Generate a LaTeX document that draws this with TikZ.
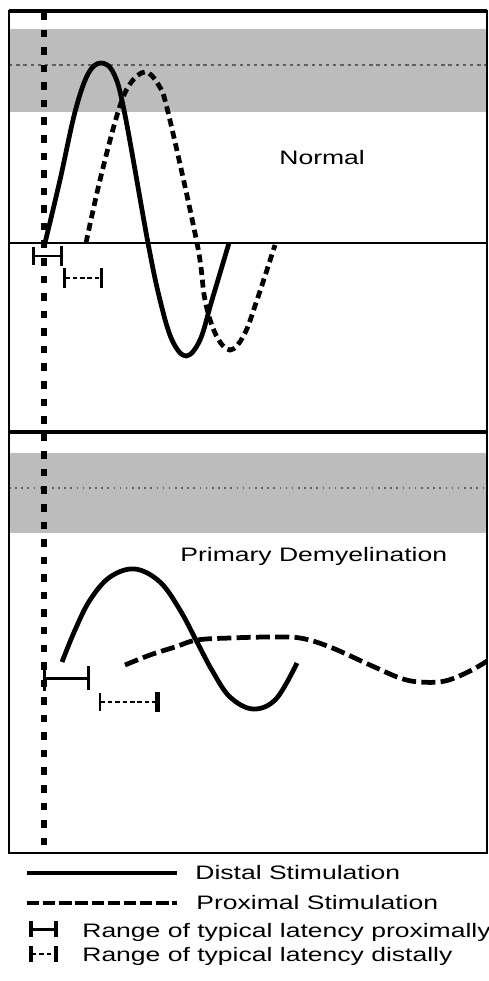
\documentclass[tikz,border=0pt]{standalone}
\usepackage{fontspec}
\newfontfamily\labelfont{Liberation Sans}[FakeStretch=1.36]
\usetikzlibrary{arrows.meta, positioning}
\definecolor{bandgray}{RGB}{188, 188, 188}
\definecolor{refgray}{RGB}{95, 95, 95}
\tikzset{
    frameline/.style={line width=1.1pt},
    divider/.style={line width=1.8pt},
    band/.style={fill=bandgray, draw=none},
    refdash/.style={draw=refgray, line width=0.6pt, dash pattern=on 1.9pt off 2.2pt},
    refdots/.style={draw=refgray, line width=0.8pt, dash pattern=on 0.9pt off 2.6pt},
    onsetline/.style={line width=3.2pt, dash pattern=on 4.3pt off 5.7pt},
    distalwave/.style={line width=2.7pt, line join=round},
    proximalwave/.style={line width=2.7pt, dash pattern=on 4.5pt off 2.7pt},
    slowwave/.style={line width=2.7pt, dash pattern=on 8pt off 3pt},
    legendsolid/.style={line width=2.3pt},
    legenddash/.style={line width=2.3pt, dash pattern=on 7pt off 2.2pt},
    latbar/.style={line width=1.7pt},
    latdash/.style={line width=1.1pt, dash pattern=on 2.6pt off 1.6pt},
    caption/.style={font=\labelfont\fontsize{11.1}{13.3}\selectfont, inner sep=0pt, anchor=base west},
}

\begin{document}
\begin{tikzpicture}[x=0.02cm, y=-0.02cm]
    \useasboundingbox (0,0) rectangle (489,981);

    % === Normal ===
    \fill[band] (9,29) rectangle (487,112);
    \draw[refdash] (9,65) -- (487,65);
    \node[caption] (normallbl) at (279,164) {Normal};
    \draw[line width=1pt] (9,243) -- (487,243);

    \draw[distalwave] plot[smooth, tension=0.6] coordinates {(45,243) (60,180) (75,112) (88,74) (101,63) (114,74) (125,115) (148,243) (160,300) (172,340) (186,356) (200,340) (212,300) (229,243)};
    \draw[proximalwave] plot[smooth, tension=0.6] coordinates {(86,243) (100,180) (118,112) (130,84) (145,72) (158,84) (168,112) (197,243) (205,300) (216,335) (230,350) (244,335) (257,300) (275,245)};

    % latency ranges
    \draw[latbar, {Bar[width=10pt]}-{Bar[width=11pt]}] (32,256) -- (63,256);
    \draw[latdash, {Bar[width=11pt, line width=1.7pt]}-{Bar[width=11pt, line width=1.7pt]}] (63,278) -- (103,278);

    % === Primary Demyelination ===
    \fill[band] (9,453) rectangle (487,533);
    \draw[refdots] (9,488) -- (487,488);
    \node[caption] (demyelbl) at (180,561) {Primary Demyelination};

    \begin{scope}
        \clip (9,432) rectangle (487,853);
        \draw[distalwave] plot[smooth, tension=0.6] coordinates {(62,662) (75,630) (90,600) (110,577) (135,569) (160,582) (180,610) (197,642) (213,672) (230,697) (253,709) (276,699) (297,663)};
        \draw[slowwave] plot[smooth, tension=0.6] coordinates {(125,665) (150,655) (175,647) (197,640) (230,638) (270,637) (300,638) (330,647) (370,665) (400,678) (420,682) (445,681) (470,671) (492,658)};
    \end{scope}

    % latency ranges
    \draw[latbar, {Bar[width=15pt]}-{Bar[width=14pt]}] (43,678) -- (90,678);
    \draw[latdash, {Bar[width=10pt, line width=1.1pt]}-{Bar[width=11pt, line width=2.8pt]}] (99,702) -- (160,702);

    % === Frame ===
    \draw[frameline] (9,11) rectangle (487,853);
    \draw[divider] (9,11) -- (487,11);
    \draw[divider] (9,432) -- (487,432);
    \draw[onsetline] (44,12) -- (44,853);

    % === Legend ===
    \draw[legendsolid] (27,873) -- (177,873);
    \node[caption] (distallbl) at (195,879) {Distal Stimulation};
    \draw[legenddash] (27,903) -- (177,903);
    \node[caption] (proximallbl) at (196,909) {Proximal Stimulation};
    \draw[latbar, {Bar[width=9pt, line width=2.2pt]}-{Bar[width=9pt, line width=2.2pt]}] (29,929) -- (58,929);
    \node[caption] (proxrangelbl) at (82,937) {Range of typical latency proximally};
    \draw[latdash, {Bar[width=9pt, line width=2.2pt]}-{Bar[width=9pt, line width=2.2pt]}] (29,954) -- (58,954);
    \node[caption] (distrangelbl) at (82,961) {Range of typical latency distally};
\end{tikzpicture}
\end{document}
